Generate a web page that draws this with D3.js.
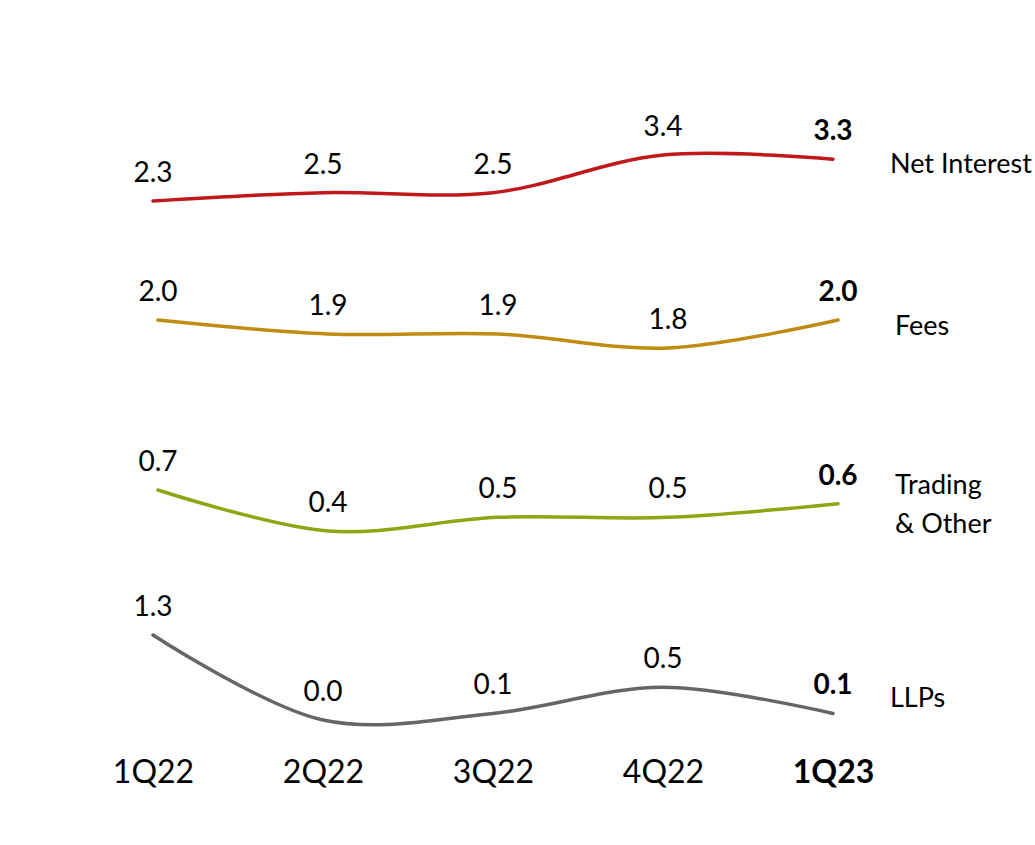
<!DOCTYPE html>
<html>
<head>
<meta charset="utf-8">
<script src="https://cdn.jsdelivr.net/npm/d3@7"></script>
<style>
  html, body { margin: 0; padding: 0; background: #fff; }
  svg { display: block; }
  text { font-family: Lato, "Open Sans", sans-serif; fill: #000; }
</style>
</head>
<body>
<svg id="chart" width="1035" height="845"></svg>
<script>
// Quarterly figures per line item
const quarters = ["1Q22", "2Q22", "3Q22", "4Q22", "1Q23"];
const netInterest = [2.3, 2.5, 2.5, 3.4, 3.3];
const fees = [2.0, 1.9, 1.9, 1.8, 2.0];
const tradingOther = [0.7, 0.4, 0.5, 0.5, 0.6];
const llps = [1.3, 0.0, 0.1, 0.5, 0.1];
const seriesNames = [["Net Interest"], ["Fees"], ["Trading", "& Other"], ["LLPs"]];

// Each line sits in its own horizontal band with its own vertical scale;
// nameDy places the series name relative to the last point
const bands = [
  { values: netInterest, color: "#c0181b", domain: [2.3, 3.4], range: [201, 155], dx: 0, nameDy: 14 },
  { values: fees,        color: "#c08b12", domain: [1.8, 2.0], range: [348, 320], dx: 5, nameDy: 15 },
  { values: tradingOther,color: "#8da614", domain: [0.4, 0.7], range: [531, 490], dx: 5, nameDy: -10 },
  { values: llps,        color: "#666666", domain: [0.0, 1.3], range: [720, 635], dx: 0, nameDy: -6 }
];

const svg = d3.select("#chart");
const fmt = d3.format(".1f");
const lastQ = quarters[quarters.length - 1];

const x = d3.scalePoint().domain(quarters).range([153, 833]);

bands.forEach((b, i) => {
  const y = d3.scaleLinear().domain(b.domain).range(b.range);
  const pts = quarters.map((q, j) => ({ q, v: b.values[j] }));
  const g = svg.append("g").attr("transform", `translate(${b.dx},0)`);

  const line = d3.line()
    .x(d => x(d.q))
    .y(d => y(d.v))
    .curve(d3.curveCatmullRom.alpha(0.5));

  g.append("path")
    .datum(pts)
    .attr("d", line)
    .attr("fill", "none")
    .attr("stroke", b.color)
    .attr("stroke-width", 3.5)
    .attr("stroke-linecap", "round");

  g.selectAll("text.value")
    .data(pts)
    .join("text")
    .attr("class", "value")
    .attr("x", d => x(d.q))
    .attr("y", d => y(d.v) - 19)
    .attr("text-anchor", "middle")
    .attr("font-size", 28)
    .attr("font-weight", d => d.q === lastQ ? 700 : 400)
    .text(d => fmt(d.v));

  // Series name to the right of the last point
  const lastY = y(b.values[b.values.length - 1]);
  const name = g.append("text")
    .attr("x", x(lastQ) + 57)
    .attr("y", lastY + b.nameDy)
    .attr("font-size", 27);
  name.selectAll("tspan")
    .data(seriesNames[i])
    .join("tspan")
    .attr("x", x(lastQ) + 57)
    .attr("dy", (d, k) => k === 0 ? 0 : 39)
    .text(d => d);
});

// Quarter labels along the bottom
const axis = svg.append("g")
  .attr("transform", "translate(0,783)")
  .call(d3.axisBottom(x).tickSize(0).tickPadding(0));
axis.select(".domain").remove();
axis.selectAll(".tick text")
  .attr("dy", 0)
  .attr("y", 0)
  .attr("fill", "#000")
  .attr("font-size", 32)
  .attr("font-family", "Lato, 'Open Sans', sans-serif")
  .attr("font-weight", d => d === lastQ ? 700 : 400);
</script>
</body>
</html>
